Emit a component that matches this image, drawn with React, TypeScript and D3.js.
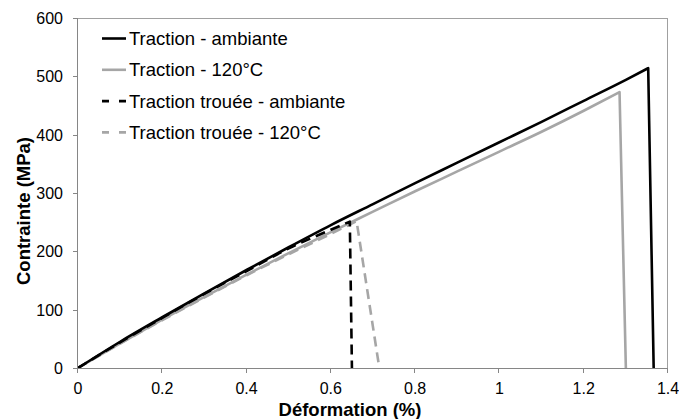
import React from "react";
import * as d3 from "d3";

type Pt = [number, number];

const seriesNames = [
  "Traction - ambiante",
  "Traction - 120°C",
  "Traction trouée - ambiante",
  "Traction trouée - 120°C",
];

// rising part then rupture point (last point)
const tractionAmbiante: Pt[] = [
  [0, 0], [0.1, 45], [0.2, 87], [0.3, 128], [0.4, 168], [0.5, 207], [0.6, 245],
  [0.7, 281], [0.8, 317], [0.9, 352], [1.0, 387], [1.1, 422], [1.2, 458],
  [1.3, 494], [1.353, 514], [1.366, 0],
];
const traction120: Pt[] = [
  [0, 0], [0.1, 42], [0.2, 83], [0.3, 122], [0.4, 160], [0.5, 197], [0.6, 233],
  [0.7, 268], [0.8, 303], [0.9, 337], [1.0, 371], [1.1, 405], [1.2, 441],
  [1.285, 473], [1.3, 0],
];
const troueeAmbiante: Pt[] = [
  [0, 0], [0.1, 44], [0.2, 86], [0.3, 127], [0.4, 166], [0.5, 205], [0.6, 237],
  [0.645, 251], [0.65, 0],
];
const trouee120: Pt[] = [
  [0, 0], [0.1, 42], [0.2, 82], [0.3, 121], [0.4, 159], [0.5, 195], [0.6, 230],
  [0.661, 252], [0.715, 0],
];

const xTicks = [0, 0.2, 0.4, 0.6, 0.8, 1, 1.2, 1.4];
const yTicks = [0, 100, 200, 300, 400, 500, 600];

const BLACK = "#000000";
const GRAY = "#a6a6a6";

const W = 679;
const H = 419;
const M = { left: 78, right: 11, top: 18, bottom: 51 };

export default function App() {
  const x = d3.scaleLinear().domain([0, 1.4]).range([M.left, W - M.right]);
  const y = d3.scaleLinear().domain([0, 600]).range([H - M.bottom, M.top]);
  const smooth = d3
    .line<Pt>()
    .x((d) => x(d[0]))
    .y((d) => y(d[1]))
    .curve(d3.curveMonotoneX);
  const pathFor = (data: Pt[]) => {
    const rise = data.slice(0, -1);
    const drop = data[data.length - 1];
    return (smooth(rise) || "") + `L${x(drop[0])},${y(drop[1])}`;
  };

  const series = [
    { name: seriesNames[0], data: tractionAmbiante, color: BLACK, dash: undefined as string | undefined, legDash: undefined as string | undefined },
    { name: seriesNames[1], data: traction120, color: GRAY, dash: undefined, legDash: undefined },
    { name: seriesNames[2], data: troueeAmbiante, color: BLACK, dash: "10,6", legDash: "7,10" },
    { name: seriesNames[3], data: trouee120, color: GRAY, dash: "10,6", legDash: "7,10" },
  ];
  const drawOrder = [series[3], series[1], series[2], series[0]];

  const font = "Arial, 'Liberation Sans', sans-serif";
  const x0 = x(0);
  const x1 = x(1.4);
  const y0 = y(0);
  const y1 = y(600);

  return (
    <svg
      width={W}
      height={H}
      style={{ position: "absolute", left: 0, top: 0, background: "#fff" }}
      fontFamily={font}
    >
      <rect x={0} y={0} width={W} height={H} fill="#fff" />
      <line x1={x0} x2={x1} y1={y1 + 0.5} y2={y1 + 0.5} stroke="#a0a0a0" strokeWidth={1} />
      <line x1={x1 - 0.5} x2={x1 - 0.5} y1={y1} y2={y0 + 5} stroke="#a0a0a0" strokeWidth={1} />
      {drawOrder.map((s) => (
        <path
          key={s.name}
          d={pathFor(s.data)}
          fill="none"
          stroke={s.color}
          strokeWidth={2.6}
          strokeDasharray={s.dash}
          strokeLinejoin="round"
        />
      ))}
      <line x1={x0 - 0.5} x2={x0 - 0.5} y1={y1} y2={y0} stroke="#868686" strokeWidth={1} />
      <line x1={x0 - 5} x2={x1} y1={y0 + 0.5} y2={y0 + 0.5} stroke="#868686" strokeWidth={1} />
      {yTicks.map((t) => (
        <g key={"y" + t}>
          <line x1={x0 - 5} x2={x0} y1={Math.round(y(t)) + 0.5} y2={Math.round(y(t)) + 0.5} stroke="#868686" />
          <text x={x0 - 15} y={y(t) + 6} textAnchor="end" fontSize={16} fill="#000">
            {t}
          </text>
        </g>
      ))}
      {xTicks.map((t) => (
        <g key={"x" + t}>
          <line x1={Math.round(x(t)) - 0.5} x2={Math.round(x(t)) - 0.5} y1={y0} y2={y0 + 5} stroke="#868686" />
          <text x={x(t)} y={y0 + 26} textAnchor="middle" fontSize={16} fill="#000">
            {t}
          </text>
        </g>
      ))}
      <text x={350} y={416} textAnchor="middle" fontSize={18.5} fontWeight="bold" fill="#000">
        Déformation (%)
      </text>
      <text
        transform={`translate(30, 211) rotate(-90)`}
        textAnchor="middle"
        fontSize={18.5}
        fontWeight="bold"
        fill="#000"
      >
        Contrainte (MPa)
      </text>
      {series.map((s, i) => {
        const cy = 38.5 + i * 31.3;
        return (
          <g key={"leg" + i}>
            <line
              x1={102}
              x2={126}
              y1={cy}
              y2={cy}
              stroke={s.color}
              strokeWidth={2.6}
              strokeDasharray={s.legDash}
            />
            <text x={129} y={cy + 6.5} fontSize={18.5} fill="#000">
              {s.name}
            </text>
          </g>
        );
      })}
    </svg>
  );
}
